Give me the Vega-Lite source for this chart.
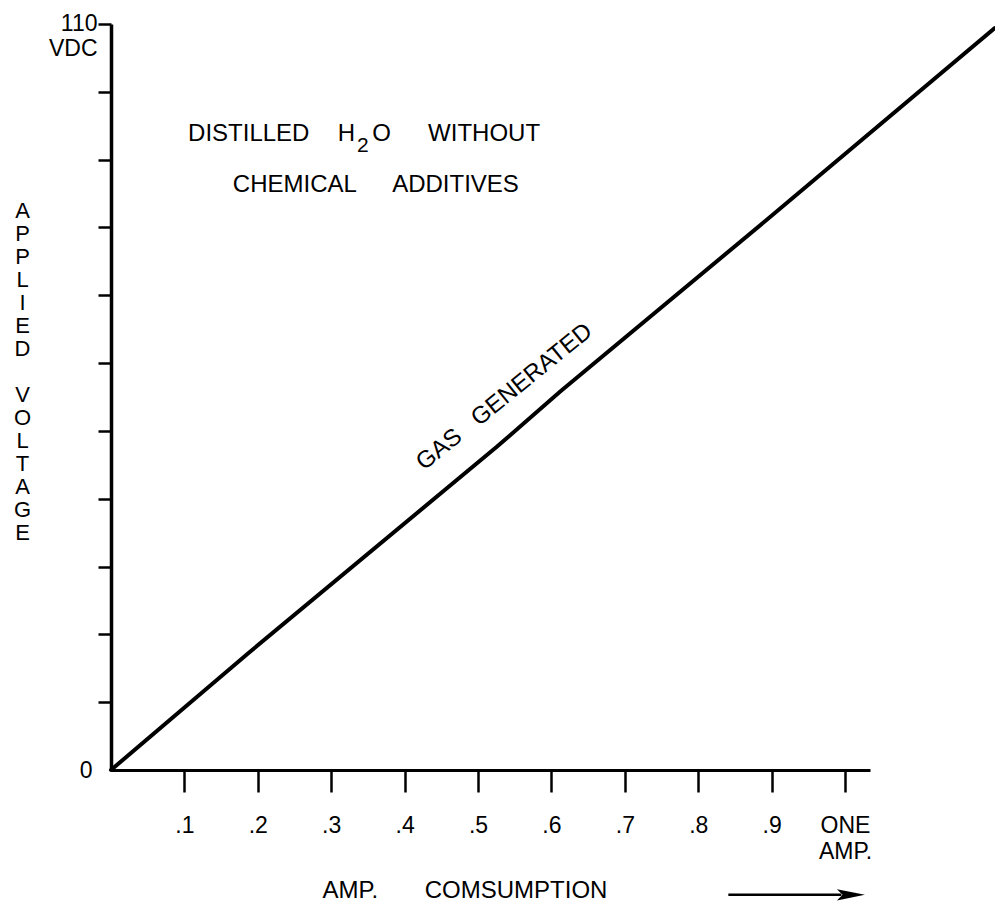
{
  "$schema": "https://vega.github.io/schema/vega-lite/v6.json",
  "autosize": "none",
  "width": 759,
  "height": 746,
  "padding": {"left": 111, "top": 24, "right": 125, "bottom": 133},
  "background": "white",
  "config": {
    "view": {"stroke": null},
    "font": "Liberation Sans",
    "axis": {"grid": false, "labelFont": "Liberation Sans", "titleFont": "Liberation Sans", "labelColor": "black", "titleColor": "black", "domainColor": "black", "tickColor": "black", "titleFontWeight": "normal"},
    "text": {"font": "Liberation Sans", "color": "black"}
  },
  "datasets": {
    "curve": [
      {"I": 0, "V": 0},
      {"I": 0.189, "V": 17.4},
      {"I": 0.526, "V": 47.7},
      {"I": 0.612, "V": 55.8},
      {"I": 0.893, "V": 81.1},
      {"I": 1.204, "V": 109.4}
    ],
    "notes": [
      {"I": 0.105, "V": 92.75, "text": "DISTILLED"},
      {"I": 0.309, "V": 92.75, "text": "H"},
      {"I": 0.356, "V": 92.75, "text": "O"},
      {"I": 0.432, "V": 92.75, "text": "WITHOUT"},
      {"I": 0.166, "V": 85.2, "text": "CHEMICAL"},
      {"I": 0.383, "V": 85.2, "text": "ADDITIVES"}
    ],
    "sub": [{"I": 0.343, "V": 91.1, "text": "2"}],
    "curvelabel": [{"I": 0.536, "V": 55.0, "text": "GAS\u00a0\u00a0\u00a0GENERATED"}],
    "arrow": [{"I": 0.841, "I2": 0.995, "V": -18.4}],
    "arrowhead": [{"I": 1.008, "V": -18.4}]
  },
  "layer": [
    {
      "data": {"name": "curve"},
      "mark": {"type": "line", "color": "black", "strokeWidth": 4, "strokeCap": "round"},
      "encoding": {
        "x": {
          "field": "I", "type": "quantitative",
          "scale": {"domain": [0, 1.034], "nice": false, "zero": false},
          "axis": {
            "values": [0.1, 0.2, 0.3, 0.4, 0.5, 0.6, 0.7, 0.8, 0.9, 1],
            "labelExpr": "datum.value == 1 ? ['ONE','AMP.'] : replace(format(datum.value, '.1f'), '0.', '.')",
            "domainWidth": 3,
            "tickSize": 22,
            "tickWidth": 2.5,
            "labelFontSize": 23,
            "labelBaseline": "alphabetic",
            "labelPadding": 40,
            "labelLineHeight": 26,
            "labelFlush": false,
            "labelOverlap": false,
            "title": "AMP.\u00a0\u00a0\u00a0\u00a0\u00a0\u00a0\u00a0COMSUMPTION",
            "titleFontSize": 24,
            "titleAlign": "left",
            "titleBaseline": "alphabetic",
            "titleX": 211,
            "titleY": 127
          }
        },
        "y": {
          "field": "V", "type": "quantitative",
          "scale": {"domain": [0, 110], "nice": false, "zero": false},
          "axis": {
            "values": [0, 10, 20, 30, 40, 50, 60, 70, 80, 90, 100, 110],
            "labelExpr": "datum.value == 0 ? '0' : datum.value == 110 ? ['110','VDC'] : ''",
            "domainWidth": 3.5,
            "tickSize": 13,
            "tickWidth": 2.5,
            "tickOpacity": {"condition": {"test": "datum.value == 0", "value": 0}, "value": 1},
            "labelFontSize": 23,
            "labelLineHeight": 25,
            "labelFlush": false,
            "labelOverlap": false,
            "labelBaseline": {"condition": {"test": "datum.value == 110", "value": "alphabetic"}, "value": "middle"},
            "labelPadding": {"condition": {"test": "datum.value == 110", "value": 1}, "value": 6},
            "labelOffset": {"condition": {"test": "datum.value == 110", "value": 6}, "value": 0},
            "title": ["A", "P", "P", "L", "I", "E", "D", "\u2800", "V", "O", "L", "T", "A", "G", "E"],
            "titleFontSize": 22,
            "titleAngle": 0,
            "titleAlign": "center",
            "titleBaseline": "alphabetic",
            "titleLineHeight": 23,
            "titleX": -89,
            "titleY": 193
          }
        }
      }
    },
    {
      "data": {"name": "notes"},
      "mark": {"type": "text", "fontSize": 24, "align": "left", "baseline": "alphabetic"},
      "encoding": {
        "x": {"field": "I", "type": "quantitative"},
        "y": {"field": "V", "type": "quantitative"},
        "text": {"field": "text"}
      }
    },
    {
      "data": {"name": "sub"},
      "mark": {"type": "text", "fontSize": 21, "align": "center", "baseline": "alphabetic"},
      "encoding": {
        "x": {"field": "I", "type": "quantitative"},
        "y": {"field": "V", "type": "quantitative"},
        "text": {"field": "text"}
      }
    },
    {
      "data": {"name": "curvelabel"},
      "mark": {"type": "text", "fontSize": 24, "align": "center", "baseline": "middle", "angle": -39},
      "encoding": {
        "x": {"field": "I", "type": "quantitative"},
        "y": {"field": "V", "type": "quantitative"},
        "text": {"field": "text"}
      }
    },
    {
      "data": {"name": "arrow"},
      "mark": {"type": "rule", "color": "black", "strokeWidth": 2.5},
      "encoding": {
        "x": {"field": "I", "type": "quantitative"},
        "x2": {"field": "I2"},
        "y": {"field": "V", "type": "quantitative"}
      }
    },
    {
      "data": {"name": "arrowhead"},
      "mark": {"type": "point", "filled": true, "color": "black", "opacity": 1, "size": 784, "shape": "M-1,-0.4L1,0L-1,0.4L-0.6,0Z"},
      "encoding": {
        "x": {"field": "I", "type": "quantitative"},
        "y": {"field": "V", "type": "quantitative"}
      }
    }
  ]
}
